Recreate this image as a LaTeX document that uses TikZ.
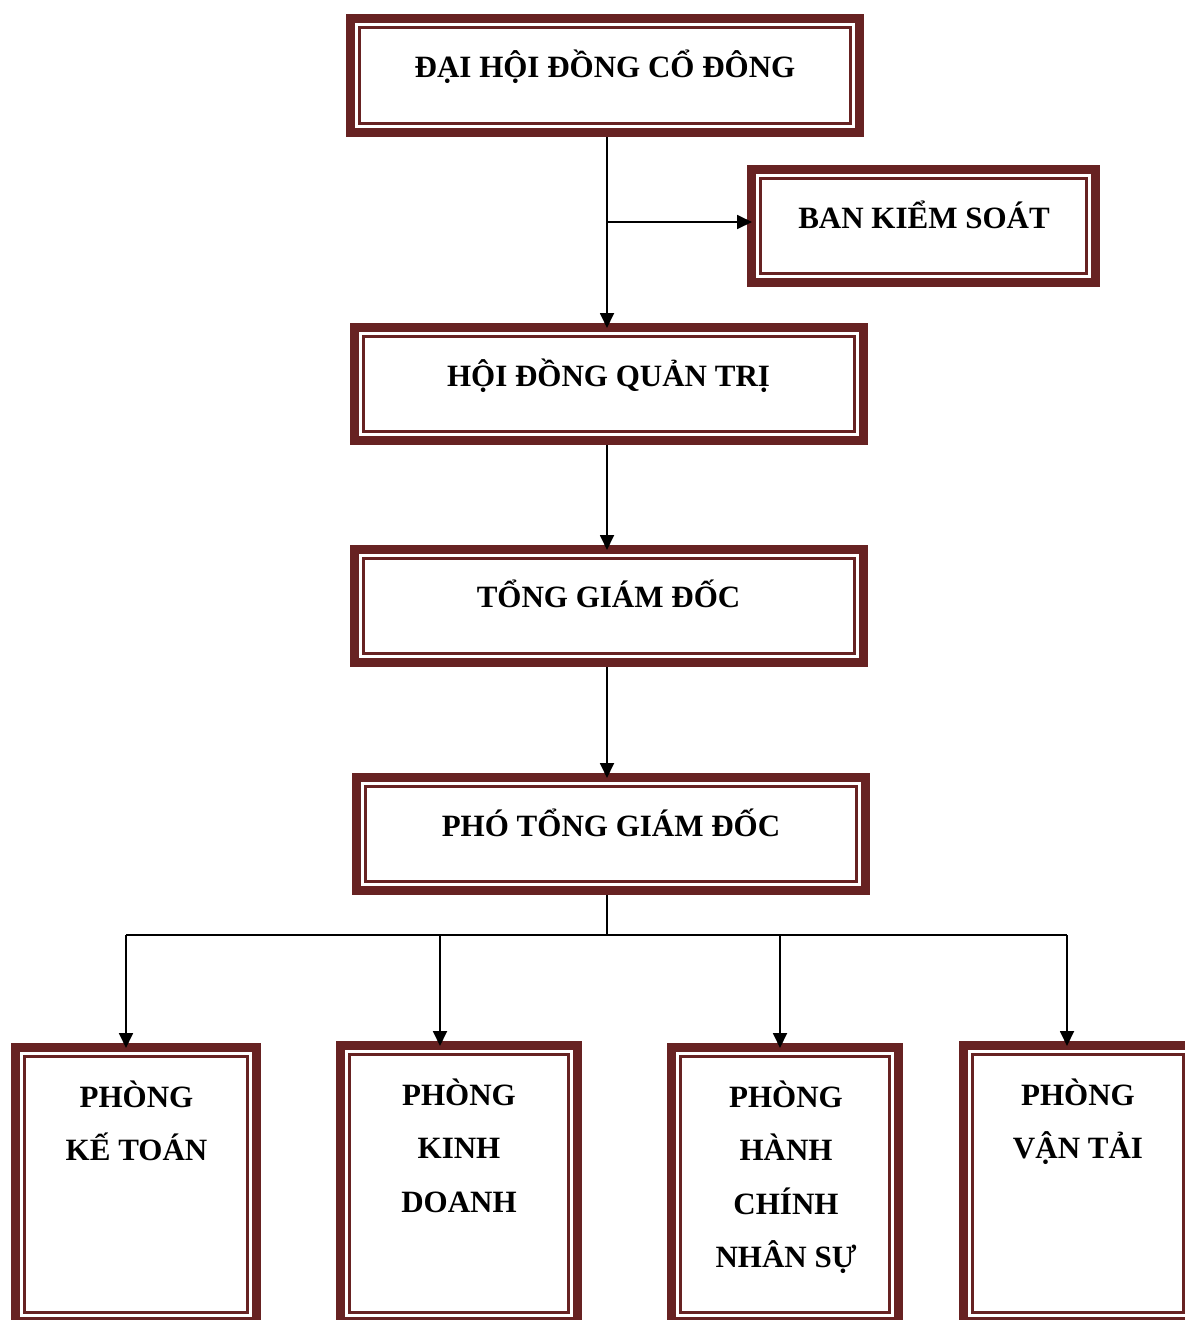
\documentclass[tikz,border=0pt]{standalone}
\usepackage{fontspec}
\setmainfont{Liberation Serif}
\usetikzlibrary{arrows.meta,calc}
\definecolor{frame}{RGB}{103,34,34}
\tikzset{
  box/.style={draw=frame, line width=9pt, outer sep=4.5pt, inner sep=0pt, fill=white},
  lbl/.style={anchor=base, inner sep=0pt, align=center, font=\bfseries\fontsize{31}{53.5}\selectfont},
  conn/.style={line width=1.8pt, black},
  arr/.style={conn, -{Triangle[length=15pt,width=14pt]}, shorten >=-5pt},
}
\newcommand{\innerframe}[1]{%
  \draw[frame, line width=2.6pt] ($(#1.north west)+(13.3,13.3)$) rectangle ($(#1.south east)+(-13.3,-13.3)$);}
\begin{document}
\begin{tikzpicture}[x=1pt,y=-1pt]
\useasboundingbox (0,0) rectangle (1185,1320);
\clip (0,0) rectangle (1185,1320);
% boxes
\node[box, minimum width=509pt, minimum height=114pt] (dh) at (605,75.5) {};
\node[box, minimum width=344pt, minimum height=113pt] (bks) at (923.5,226) {};
\node[box, minimum width=509pt, minimum height=113pt] (hdqt) at (609,384) {};
\node[box, minimum width=509pt, minimum height=113pt] (tgd) at (609,606) {};
\node[box, minimum width=509pt, minimum height=113pt] (ptgd) at (611,834) {};
\node[box, minimum width=241pt, minimum height=274pt] (kt) at (136,1184.5) {};
\node[box, minimum width=237pt, minimum height=276pt] (kd) at (459,1183.5) {};
\node[box, minimum width=227pt, minimum height=274pt] (hc) at (785,1184.5) {};
\node[box, minimum width=229pt, minimum height=276pt] (vt) at (1078,1183.5) {};
\foreach \n in {dh,bks,hdqt,tgd,ptgd,kt,kd,hc,vt} {\innerframe{\n}}
% labels
\node[lbl] (tdh) at (605,77) {ĐẠI HỘI ĐỒNG CỔ ĐÔNG};
\node[lbl] (tbks) at (924,228) {BAN KIỂM SOÁT};
\node[lbl] (thdqt) at (608.5,386) {HỘI ĐỒNG QUẢN TRỊ};
\node[lbl] (ttgd) at (608.5,607) {TỔNG GIÁM ĐỐC};
\node[lbl] (tptgd) at (611,836) {PHÓ TỔNG GIÁM ĐỐC};
\node[lbl] (tkt) at (136.5,1160.5) {PHÒNG\\KẾ TOÁN};
\node[lbl] (tkd) at (459,1212) {PHÒNG\\KINH\\DOANH};
\node[lbl] (thc) at (786,1267.5) {PHÒNG\\HÀNH\\CHÍNH\\NHÂN SỰ};
\node[lbl] (tvt) at (1078,1158.5) {PHÒNG\\VẬN TẢI};
% connectors
\coordinate (trunk) at (607,0);
\coordinate (br) at (607,222);
\draw[arr] (dh.south -| trunk) -- (hdqt.north -| trunk);
\draw[arr] (br) -- (br -| bks.west);
\draw[arr] (hdqt.south -| trunk) -- (tgd.north -| trunk);
\draw[arr] (tgd.south -| trunk) -- (ptgd.north -| trunk);
\coordinate (h) at (607,935);
\coordinate (d1) at (126,935);
\coordinate (d2) at (440,935);
\coordinate (d3) at (780,935);
\coordinate (d4) at (1067,935);
\draw[conn] (ptgd.south -| trunk) -- (h);
\draw[conn] (d1) -- (d4);
\draw[arr] (d1) -- (d1 |- kt.north);
\draw[arr] (d2) -- (d2 |- kd.north);
\draw[arr] (d3) -- (d3 |- hc.north);
\draw[arr] (d4) -- (d4 |- vt.north);
\end{tikzpicture}
\end{document}
